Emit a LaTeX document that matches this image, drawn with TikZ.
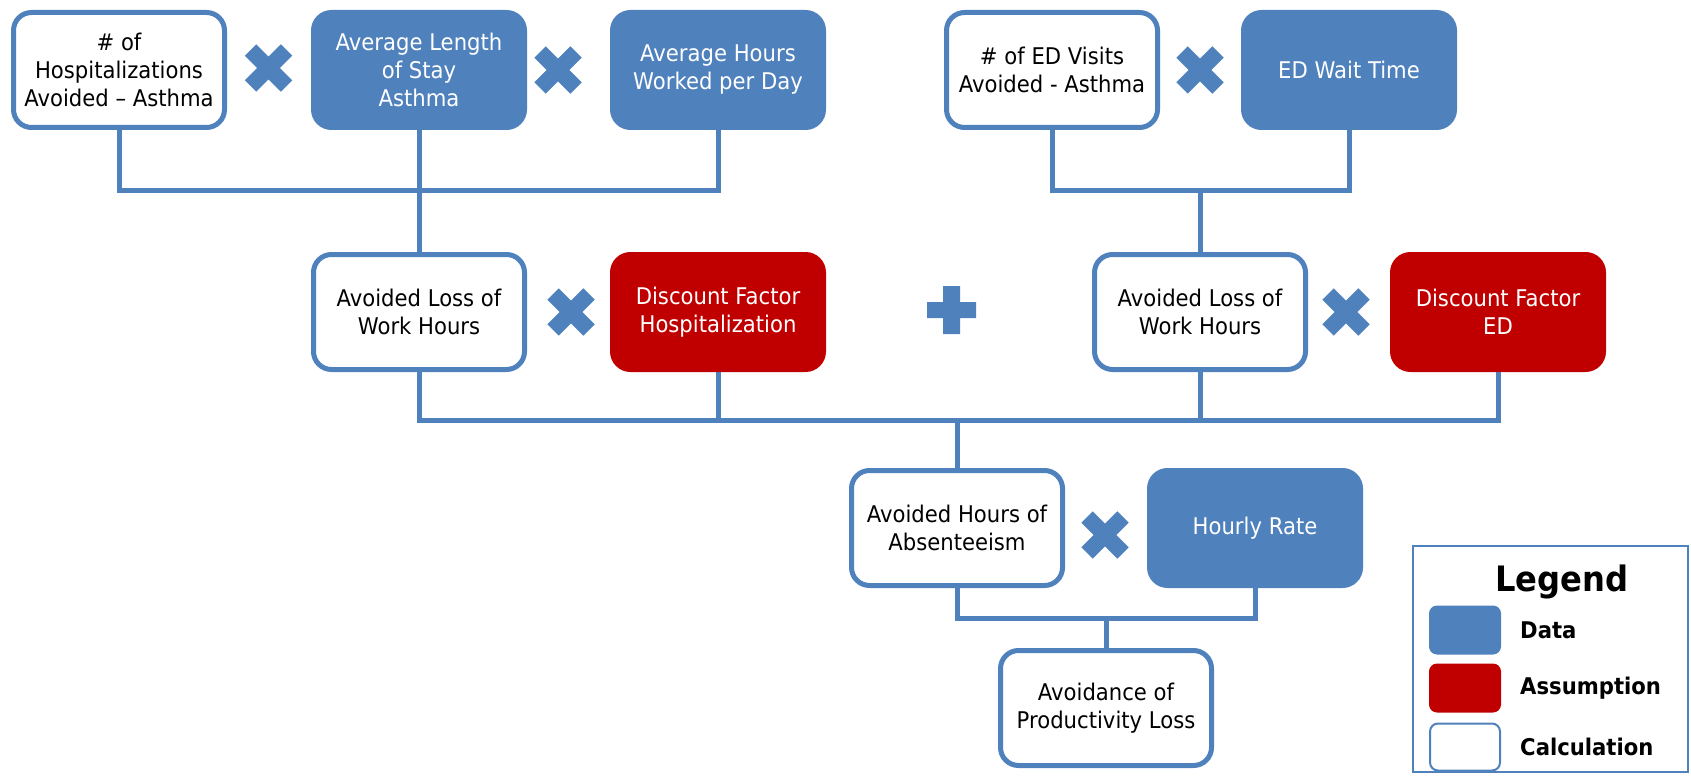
\documentclass[tikz,border=0pt]{standalone}
\usepackage{fontspec}
\setmainfont{DejaVu Sans}[FakeStretch=0.92]
\definecolor{dblue}{HTML}{4F81BD}
\definecolor{dred}{HTML}{C00000}
\tikzset{
  box/.style={rounded corners=18pt, line width=5pt, minimum width=211pt, minimum height=115pt,
    align=center, font=\fontsize{23}{28}\selectfont, inner sep=0pt},
  calcbox/.style={box, draw=dblue, fill=white, text=black},
  databox/.style={box, draw=dblue, fill=dblue, text=white},
  assumbox/.style={box, draw=dred, fill=dred, text=white},
  link/.style={draw=dblue, line width=5pt},
  mult/.pic={\draw[dblue, line width=16pt] (-18,-18)--(18,18) (-18,18)--(18,-18);},
  addsign/.pic={\fill[dblue] (-24.5,-8) rectangle (24.5,8) (-8.5,-24) rectangle (8.5,24);},
  swatch/.style={rounded corners=8pt, minimum width=72pt, minimum height=49pt, inner sep=0pt},
  leglabel/.style={anchor=west, font=\bfseries\fontsize{23}{28}\selectfont, inner sep=0pt}
}
\begin{document}
\begin{tikzpicture}[x=1pt, y=-1pt]
\useasboundingbox (0,0) rectangle (1691,778);
% row 1
\node[calcbox] (h1) at (119,70) {\# of\\Hospitalizations\\Avoided – Asthma};
\node[databox] (h2) at (419,70) {Average Length\\of Stay\\Asthma};
\node[databox] (h3) at (718,70) {Average Hours\\Worked per Day};
\node[calcbox] (e1) at (1052,70) {\# of ED Visits\\Avoided - Asthma};
\node[databox] (e2) at (1349,70) {ED Wait Time};
% row 2
\node[calcbox] (a1) at (419,312) {Avoided Loss of\\Work Hours};
\node[assumbox] (d1) at (718,312) {Discount Factor\\Hospitalization};
\node[calcbox] (a2) at (1200,312) {Avoided Loss of\\Work Hours};
\node[assumbox] (d2) at (1498,312) {Discount Factor\\ED};
% row 3
\node[calcbox] (ah) at (957,528) {Avoided Hours of\\Absenteeism};
\node[databox] (hr) at (1255,528) {Hourly Rate};
% row 4
\node[calcbox] (av) at (1106,708) {Avoidance of\\Productivity Loss};
% junctions
\coordinate (j1) at (419,191);
\coordinate (j2) at (1200,191);
\coordinate (j3) at (957,420);
\coordinate (j4) at (1106,618);
% connectors
\draw[link] (h1.south) |- (j1) -| (h3.south);
\draw[link] (h2.south) -- (a1.north);
\draw[link] (e1.south) |- (j2) -| (e2.south);
\draw[link] (j2) -- (a2.north);
\draw[link] (a1.south) |- (j3) -| (d2.south);
\draw[link] (d1.south) -- (d1.south |- j3);
\draw[link] (a2.south) -- (a2.south |- j3);
\draw[link] (j3) -- (ah.north);
\draw[link] (ah.south) |- (j4) -| (hr.south);
\draw[link] (j4) -- (av.north);
% operators
\pic at (268.5,68) {mult};
\pic at (558,70) {mult};
\pic at (1200,70) {mult};
\pic at (571,312) {mult};
\pic at (1346,312) {mult};
\pic at (951.5,310) {addsign};
\pic at (1105,535) {mult};
% legend
\draw[dblue, line width=2pt] (1413,546) rectangle (1688,772);
\node[font=\bfseries\fontsize{35}{40}\selectfont, inner sep=0pt] (lt) at (1562,582) {Legend};
\node[swatch, fill=dblue] (s1) at (1465,630) {};
\node[swatch, fill=dred] (s2) at (1465,688) {};
\node[swatch, draw=dblue, line width=2pt, fill=white, minimum width=70pt, minimum height=47pt] (s3) at (1465,747) {};
\node[leglabel] (l1) at (1520,630) {Data};
\node[leglabel] (l2) at (1520,688) {Assumption};
\node[leglabel] (l3) at (1520,747) {Calculation};
\end{tikzpicture}
\end{document}
